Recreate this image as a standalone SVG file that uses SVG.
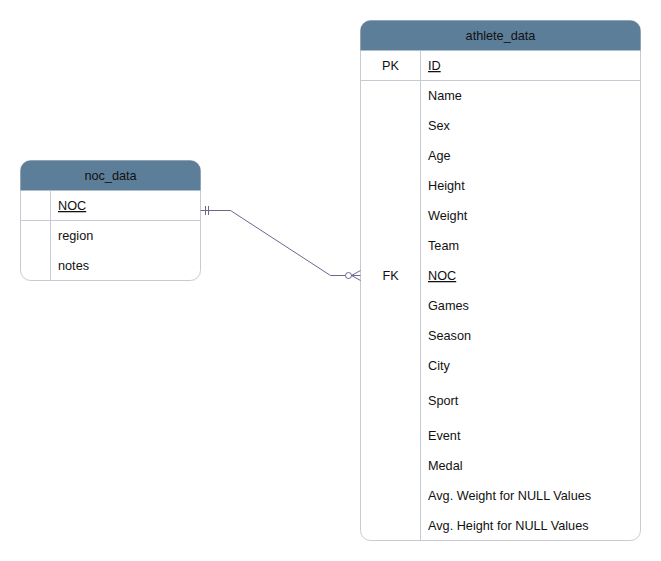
<svg xmlns="http://www.w3.org/2000/svg" width="661" height="561" viewBox="0 0 661 561">
<style>
text{font-family:"Liberation Sans",Arial,sans-serif;font-size:12.7px;fill:#111111;}
.hd{text-anchor:middle;}
.k{text-anchor:middle;}
.u{text-decoration:underline;}
.box{fill:#ffffff;stroke:#c9c9d3;stroke-width:1;}
.hdr{fill:#5d7e99;}
.ln{stroke:#c9c9d3;stroke-width:1;fill:none;}
.cn{stroke:#6b6791;stroke-width:1;fill:none;}
</style>
<rect width="661" height="561" fill="#ffffff"/>
<g id="noc_data">
<rect class="box" x="20.5" y="160.5" width="180" height="120" rx="10"/>
<path class="hdr" d="M20.5,190.5 V170.5 a10,10 0 0 1 10,-10 H190.5 a10,10 0 0 1 10,10 V190.5 Z"/>
<line class="ln" x1="20.5" y1="220.5" x2="200.5" y2="220.5"/>
<line class="ln" x1="50.5" y1="190.5" x2="50.5" y2="280.5"/>
<text class="hd" x="110.5" y="180">noc_data</text>
<text class="u" x="58" y="210">NOC</text>
<text x="58" y="240">region</text>
<text x="58" y="270">notes</text>
</g>
<g id="athlete_data">
<rect class="box" x="360.5" y="20.5" width="280" height="520" rx="10"/>
<path class="hdr" d="M360.5,50.5 V30.5 a10,10 0 0 1 10,-10 H630.5 a10,10 0 0 1 10,10 V50.5 Z"/>
<line class="ln" x1="360.5" y1="80.5" x2="640.5" y2="80.5"/>
<line class="ln" x1="420.5" y1="50.5" x2="420.5" y2="540.5"/>
<text class="hd" x="500.5" y="40">athlete_data</text>
<text class="k" x="390.5" y="70">PK</text>
<text class="u" x="428" y="70">ID</text>
<text class="k" x="390.5" y="280">FK</text>
<text x="428" y="100">Name</text>
<text x="428" y="130">Sex</text>
<text x="428" y="160">Age</text>
<text x="428" y="190">Height</text>
<text x="428" y="220">Weight</text>
<text x="428" y="250">Team</text>
<text class="u" x="428" y="280">NOC</text>
<text x="428" y="310">Games</text>
<text x="428" y="340">Season</text>
<text x="428" y="370">City</text>
<text x="428" y="405">Sport</text>
<text x="428" y="440">Event</text>
<text x="428" y="470">Medal</text>
<text x="428" y="500">Avg. Weight for NULL Values</text>
<text x="428" y="530">Avg. Height for NULL Values</text>
</g>
<g id="connectors">
<path class="cn" d="M200.5,210.5 H230.5 L330.5,275.5 H360.5"/>
<line class="cn" x1="205.5" y1="206" x2="205.5" y2="215"/>
<line class="cn" x1="208.5" y1="206" x2="208.5" y2="215"/>
<circle cx="348.5" cy="275.5" r="3" fill="#ffffff" stroke="#6b6791" stroke-width="1"/>
<path class="cn" d="M360.5,270.5 L351.5,275.5 L360.5,280.5"/>
</g>
</svg>
